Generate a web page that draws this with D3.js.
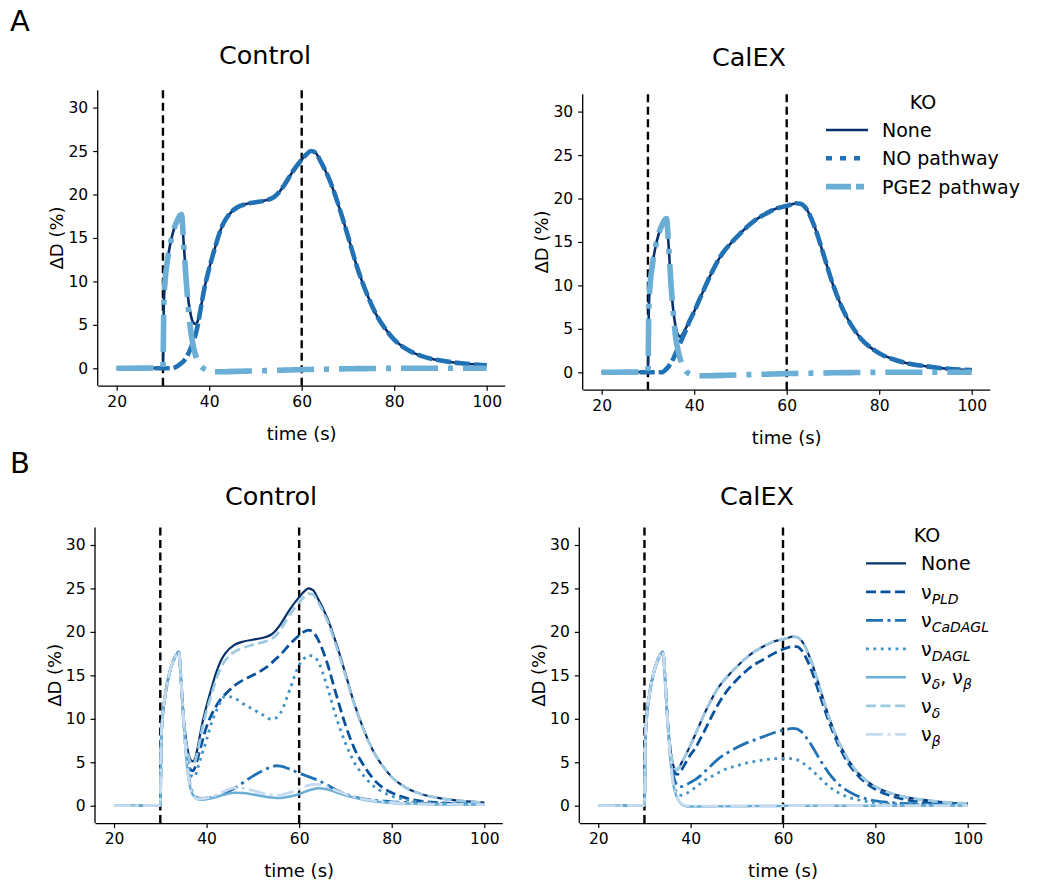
<!DOCTYPE html>
<html>
<head>
<meta charset="utf-8">
<script src="https://cdn.jsdelivr.net/npm/d3@7"></script>
<style>
  body { margin: 0; background: #fff; }
  text { font-family: "DejaVu Sans", sans-serif; fill: #000; }
</style>
</head>
<body>
<svg id="fig" width="1039" height="884"></svg>
<script>
// shared time grid (s)
const time = [20, 25, 29.9, 30, 30.2, 30.5, 31, 32, 33, 34, 34.5, 35, 35.5, 36, 36.5, 37, 37.5, 38, 39, 40,
  41, 42, 43, 44, 46, 48, 50, 52, 54, 55, 56, 58, 60, 61, 62, 63, 64, 66, 68, 70,
  72, 74, 76, 78, 80, 83, 86, 90, 95, 100];

// panel A, Control
const ctrlNone = [0, 0.02, 0.05, 0.1, 7.5, 10.3, 12.5, 15.3, 16.9, 17.7, 14.3, 10.5, 7.8, 6.2, 5.3, 5.1, 5.4, 6.5, 9.3, 11.5,
  13.4, 15.2, 16.6, 17.5, 18.5, 18.9, 19.1, 19.3, 19.7, 20.2, 20.9, 22.6, 24.0, 24.6, 25.0, 24.8, 23.9, 21.7, 18.7, 15.2,
  11.6, 8.7, 6.3, 4.6, 3.3, 2.1, 1.4, 0.9, 0.55, 0.35];
const ctrlNoPath = [0, 0, 0, 0, 0, 0, 0, 0, 0.2, 0.6, 0.85, 1.2, 1.7, 2.3, 3.0, 3.8, 4.9, 6.4, 9.3, 11.5,
  13.4, 15.2, 16.6, 17.5, 18.5, 18.9, 19.1, 19.3, 19.7, 20.2, 20.9, 22.6, 24.0, 24.6, 25.0, 24.8, 23.9, 21.7, 18.7, 15.2,
  11.6, 8.7, 6.3, 4.6, 3.3, 2.1, 1.4, 0.9, 0.55, 0.35];
const ctrlPge2 = [0, 0.02, 0.05, 0.1, 7.5, 10.3, 12.5, 15.3, 16.9, 17.7, 14.3, 10.3, 6.9, 4.3, 2.7, 1.6, 0.9, 0.4, -0.1, -0.35,
  -0.4, -0.4, -0.4, -0.38, -0.35, -0.32, -0.3, -0.27, -0.24, -0.22, -0.21, -0.18, -0.15, -0.14, -0.13, -0.12, -0.11, -0.09, -0.07, -0.05,
  -0.04, -0.03, -0.02, -0.01, 0, 0, 0, 0, 0, 0];

// panel A, CalEX
const calexNone = [0, 0.02, 0.05, 0.1, 7.5, 10.3, 12.5, 15.3, 16.9, 17.7, 14.3, 10.0, 7.0, 5.2, 4.3, 4.1, 4.4, 4.9, 5.9, 7.0,
  8.2, 9.4, 10.6, 11.7, 13.6, 14.9, 16.0, 17.0, 17.8, 18.1, 18.4, 18.9, 19.15, 19.3, 19.45, 19.4, 19.0, 16.8, 13.5, 10.1,
  7.4, 5.4, 3.9, 2.9, 2.2, 1.5, 1.05, 0.7, 0.4, 0.25];
const calexNoPath = [0, 0, 0, 0, 0, 0, 0, 0, 0, 0.4, 0.7, 1.1, 1.6, 2.2, 2.8, 3.4, 4.0, 4.6, 5.9, 7.0,
  8.2, 9.4, 10.6, 11.7, 13.6, 14.9, 16.0, 17.0, 17.8, 18.1, 18.4, 18.9, 19.15, 19.3, 19.45, 19.4, 19.0, 16.8, 13.5, 10.1,
  7.4, 5.4, 3.9, 2.9, 2.2, 1.5, 1.05, 0.7, 0.4, 0.25];
const calexPge2 = [0, 0.02, 0.05, 0.1, 7.5, 10.3, 12.5, 15.3, 16.9, 17.7, 14.3, 10.0, 6.8, 4.0, 2.5, 1.5, 0.8, 0.3, -0.2, -0.35,
  -0.4, -0.4, -0.4, -0.38, -0.35, -0.32, -0.3, -0.27, -0.24, -0.22, -0.21, -0.18, -0.15, -0.14, -0.13, -0.12, -0.11, -0.09, -0.07, -0.05,
  -0.04, -0.03, -0.02, -0.01, 0, 0, 0, 0, 0, 0];

// panel B, Control
const ctrlPld = [0, 0.02, 0.05, 0.1, 7.5, 10.3, 12.5, 15.3, 16.9, 17.7, 14.3, 10.3, 7.3, 5.3, 4.2, 4.0, 4.4, 5.3, 7.3, 9.1,
  10.4, 11.4, 12.2, 12.8, 13.8, 14.5, 15.0, 15.6, 16.4, 16.9, 17.4, 18.6, 19.6, 20.0, 20.2, 20.0, 19.2, 16.5, 12.8, 9.3,
  6.5, 4.6, 3.1, 2.1, 1.5, 0.9, 0.55, 0.35, 0.25, 0.2];
const ctrlCaDagl = [0, 0.02, 0.05, 0.1, 7.5, 10.3, 12.5, 15.3, 16.9, 17.7, 14.3, 10.0, 6.5, 3.8, 2.3, 1.5, 1.1, 0.9, 0.85, 0.9,
  0.95, 1.05, 1.2, 1.45, 2.0, 2.7, 3.4, 4.0, 4.45, 4.6, 4.55, 4.2, 3.75, 3.55, 3.35, 3.15, 2.95, 2.4, 1.8, 1.35,
  1.0, 0.8, 0.65, 0.55, 0.45, 0.38, 0.3, 0.25, 0.2, 0.15];
const ctrlDagl = [0, 0.02, 0.05, 0.1, 7.5, 10.3, 12.5, 15.3, 16.9, 17.7, 14.3, 10.3, 7.2, 5.0, 3.8, 3.3, 3.4, 4.2, 5.9, 7.6,
  9.4, 10.8, 11.9, 12.6, 12.4, 11.7, 11.1, 10.5, 9.95, 10.1, 10.7, 13.4, 16.2, 16.9, 17.3, 17.2, 16.7, 13.8, 10.2, 7.2,
  4.9, 3.4, 2.3, 1.6, 1.1, 0.7, 0.45, 0.3, 0.2, 0.15];
const ctrlDeltaBeta = [0, 0.02, 0.05, 0.1, 7.5, 10.3, 12.5, 15.3, 16.9, 17.7, 14.3, 9.8, 6.2, 3.5, 2.0, 1.3, 0.95, 0.75, 0.7, 0.75,
  0.85, 1.0, 1.15, 1.3, 1.5, 1.45, 1.3, 1.1, 0.95, 0.9, 0.9, 1.05, 1.35, 1.55, 1.75, 1.9, 2.0, 1.9, 1.55, 1.2,
  0.9, 0.68, 0.5, 0.4, 0.32, 0.25, 0.2, 0.15, 0.12, 0.1];
const ctrlDelta = [0, 0.02, 0.05, 0.1, 7.5, 10.3, 12.5, 15.3, 16.9, 17.7, 14.3, 10.4, 7.6, 5.9, 5.0, 4.8, 5.1, 6.1, 8.7, 10.9,
  12.7, 14.4, 15.8, 16.7, 17.7, 18.2, 18.5, 18.8, 19.2, 19.6, 20.3, 22.0, 23.4, 24.0, 24.4, 24.3, 23.5, 21.4, 18.4, 15.0,
  11.5, 8.6, 6.3, 4.6, 3.3, 2.1, 1.4, 0.9, 0.55, 0.35];
const ctrlBeta = [0, 0.02, 0.05, 0.1, 7.5, 10.3, 12.5, 15.3, 16.9, 17.7, 14.3, 9.9, 6.3, 3.6, 2.1, 1.35, 1.0, 0.8, 0.8, 0.9,
  1.05, 1.2, 1.45, 1.7, 2.05, 2.0, 1.75, 1.45, 1.25, 1.2, 1.25, 1.5, 1.9, 2.15, 2.35, 2.45, 2.45, 2.2, 1.75, 1.35,
  1.0, 0.75, 0.58, 0.45, 0.37, 0.28, 0.22, 0.17, 0.14, 0.12];

// panel B, CalEX
const calexPld = [0, 0.02, 0.05, 0.1, 7.5, 10.3, 12.5, 15.3, 16.9, 17.7, 14.3, 10.0, 6.9, 4.9, 3.9, 3.6, 3.7, 4.1, 5.0, 5.9,
  6.6, 7.6, 8.6, 9.7, 11.7, 13.3, 14.5, 15.5, 16.3, 16.6, 16.9, 17.5, 18.0, 18.2, 18.3, 18.3, 17.9, 15.8, 12.7, 9.6,
  7.0, 5.0, 3.6, 2.6, 1.9, 1.2, 0.75, 0.45, 0.3, 0.2];
const calexCaDagl = [0, 0.02, 0.05, 0.1, 7.5, 10.3, 12.5, 15.3, 16.9, 17.7, 14.3, 10.0, 6.7, 4.3, 3.0, 2.4, 2.2, 2.2, 2.4, 2.7,
  3.0, 3.4, 3.9, 4.4, 5.4, 6.1, 6.7, 7.2, 7.6, 7.8, 8.0, 8.4, 8.7, 8.8, 8.9, 8.85, 8.5, 7.1, 5.3, 3.7,
  2.5, 1.7, 1.15, 0.8, 0.55, 0.38, 0.28, 0.2, 0.15, 0.12];
const calexDagl = [0, 0.02, 0.05, 0.1, 7.5, 10.3, 12.5, 15.3, 16.9, 17.7, 14.3, 9.8, 6.3, 3.7, 2.2, 1.5, 1.25, 1.2, 1.4, 1.7,
  2.1, 2.5, 2.9, 3.2, 3.8, 4.3, 4.6, 4.9, 5.1, 5.2, 5.3, 5.4, 5.45, 5.45, 5.4, 5.3, 5.0, 4.2, 3.2, 2.2,
  1.5, 1.0, 0.7, 0.5, 0.35, 0.25, 0.18, 0.13, 0.1, 0.08];
const calexDeltaBeta = [0, 0.02, 0.05, 0.1, 7.5, 10.3, 12.5, 15.3, 16.9, 17.7, 14.3, 9.6, 6.0, 3.3, 1.8, 1.0, 0.5, 0.2, -0.05, -0.1,
  -0.1, -0.1, -0.1, -0.08, -0.07, -0.06, -0.05, -0.05, -0.04, -0.04, -0.03, -0.02, -0.02, -0.01, -0.01, 0, 0, 0, 0, 0,
  0, 0, 0, 0, 0, 0, 0, 0, 0, 0];
const calexDelta = [0, 0.02, 0.05, 0.1, 7.5, 10.3, 12.5, 15.3, 16.9, 17.7, 14.3, 10.0, 7.0, 5.2, 4.3, 4.1, 4.4, 4.9, 5.9, 7.0,
  8.2, 9.4, 10.6, 11.7, 13.6, 14.9, 16.0, 17.0, 17.8, 18.1, 18.4, 18.9, 19.15, 19.3, 19.45, 19.4, 19.0, 16.8, 13.5, 10.1,
  7.4, 5.4, 3.9, 2.9, 2.2, 1.5, 1.05, 0.7, 0.4, 0.25];
const calexBeta = [0, 0.02, 0.05, 0.1, 7.5, 10.3, 12.5, 15.3, 16.9, 17.7, 14.3, 9.7, 6.1, 3.4, 1.9, 1.05, 0.55, 0.25, 0.0, -0.05,
  -0.05, -0.05, -0.05, -0.04, -0.04, -0.03, -0.03, -0.02, -0.02, -0.02, -0.01, -0.01, 0, 0, 0, 0, 0, 0, 0, 0,
  0, 0, 0, 0, 0, 0, 0, 0, 0, 0];

const xTicks = [20, 40, 60, 80, 100];
const yTicks = [0, 5, 10, 15, 20, 25, 30];
const stimTimes = [30, 60];
const legendA = ["None", "NO pathway", "PGE2 pathway"];
const legendB = [["None", ""], ["ν", "PLD"], ["ν", "CaDAGL"], ["ν", "DAGL"], ["ν", "δ", "ν", "β"], ["ν", "δ"], ["ν", "β"]];

// line styles
const styleA = [
  { color: "#08306b", width: 2.6, dash: null, legDash: null },
  { color: "#2171b5", width: 4.6, dash: "15,4", legDash: "6,8" },
  { color: "#6baed6", width: 5.6, dash: "37,10,5,10", legDash: "25,5,8,20" }
];
const styleB = [
  { color: "#08306b", width: 2.2, dash: null },
  { color: "#08519c", width: 2.8, dash: "10,4.5" },
  { color: "#2171b5", width: 2.8, dash: "17,4.5,3,4.5" },
  { color: "#4292c6", width: 2.8, dash: "2.8,4.6" },
  { color: "#6baed6", width: 2.5, dash: null },
  { color: "#9ecae1", width: 2.8, dash: "10,4.5" },
  { color: "#c6dbef", width: 2.8, dash: "17,4.5,3,4.5" }
];

const svg = d3.select("#fig");

function drawPanel(p) {
  const x = d3.scaleLinear().domain([16, 104]).range([p.left, p.right]);
  const y = d3.scaleLinear().domain([-2, 32]).range([p.bottom, p.top]);
  const g = svg.append("g");

  g.selectAll(".stim").data(stimTimes).enter().append("line")
    .attr("x1", d => x(d)).attr("x2", d => x(d))
    .attr("y1", p.top).attr("y2", p.bottom)
    .attr("stroke", "#000").attr("stroke-width", 2.4)
    .attr("stroke-dasharray", "8,4.5");

  const line = d3.line()
    .x((d, i) => x(time[i]))
    .y(d => y(d))
    .curve(d3.curveMonotoneX);

  p.series.forEach((s, k) => {
    const st = p.styles[k];
    g.append("path")
      .attr("d", line(s))
      .attr("fill", "none")
      .attr("stroke", st.color)
      .attr("stroke-width", st.width)
      .attr("stroke-linejoin", "round")
      .attr("stroke-dasharray", st.dash);
  });

  // axes
  const xa = g.append("g").attr("transform", `translate(0,${p.bottom})`)
    .call(d3.axisBottom(x).tickValues(xTicks).tickSize(5).tickPadding(5));
  const ya = g.append("g").attr("transform", `translate(${p.left},0)`)
    .call(d3.axisLeft(y).tickValues(yTicks).tickSize(5).tickPadding(5));
  [xa, ya].forEach(a => {
    a.select(".domain").attr("stroke-width", 1.3).attr("d",
      a === xa ? `M${p.left},0.5H${p.right}` : `M-0.5,${p.top}V${p.bottom}`);
    a.selectAll(".tick line").attr("stroke-width", 1.2);
    a.selectAll(".tick text").style("font-size", "15.5px").style("font-family", "DejaVu Sans");
  });

  g.append("text").attr("x", (p.left + p.right) / 2).attr("y", p.bottom + 54)
    .attr("text-anchor", "middle").style("font-size", "18px").text("time (s)");
  g.append("text")
    .attr("transform", `translate(${p.left - 35},${(p.top + p.bottom) / 2}) rotate(-90)`)
    .attr("text-anchor", "middle").style("font-size", "18px").text("ΔD (%)");
  g.append("text").attr("x", p.titleX).attr("y", p.titleY)
    .attr("text-anchor", "middle").style("font-size", "25.5px").text(p.title);
}

drawPanel({ left: 98.2, right: 505.2, top: 90.2, bottom: 385.7, title: "Control", titleX: 265, titleY: 64,
  series: [ctrlNone, ctrlNoPath, ctrlPge2], styles: styleA });
drawPanel({ left: 583.2, right: 990.2, top: 94.2, bottom: 389.7, title: "CalEX", titleX: 749, titleY: 66,
  series: [calexNone, calexNoPath, calexPge2], styles: styleA });
drawPanel({ left: 95.5, right: 502.8, top: 527.6, bottom: 823.1, title: "Control", titleX: 271, titleY: 505,
  series: [ctrlNone, ctrlPld, ctrlCaDagl, ctrlDagl, ctrlDeltaBeta, ctrlDelta, ctrlBeta], styles: styleB });
drawPanel({ left: 579.8, right: 986.2, top: 527.6, bottom: 823.1, title: "CalEX", titleX: 757, titleY: 505,
  series: [calexNone, calexPld, calexCaDagl, calexDagl, calexDeltaBeta, calexDelta, calexBeta], styles: styleB });

// panel letters
svg.append("text").attr("x", 10).attr("y", 31).style("font-size", "29px").text("A");
svg.append("text").attr("x", 10).attr("y", 473).style("font-size", "29px").text("B");

// legend A
const lgA = svg.append("g");
lgA.append("text").attr("x", 923).attr("y", 108.5).attr("text-anchor", "middle")
  .style("font-size", "19px").text("KO");
legendA.forEach((lab, i) => {
  const yy = 130 + i * 28.3;
  const st = styleA[i];
  lgA.append("line").attr("x1", 826).attr("x2", 868).attr("y1", yy).attr("y2", yy)
    .attr("stroke", st.color).attr("stroke-width", st.width)
    .attr("stroke-dasharray", st.legDash);
  lgA.append("text").attr("x", 882).attr("y", yy + 7).style("font-size", "19px").text(lab);
});

// legend B
const lgB = svg.append("g");
lgB.append("text").attr("x", 927).attr("y", 542).attr("text-anchor", "middle")
  .style("font-size", "19px").text("KO");
legendB.forEach((lab, i) => {
  const yy = 563.3 + i * 28.5;
  const st = styleB[i];
  lgB.append("line").attr("x1", 866).attr("x2", 906).attr("y1", yy).attr("y2", yy)
    .attr("stroke", st.color).attr("stroke-width", st.width)
    .attr("stroke-dasharray", st.dash);
  const t = lgB.append("text").attr("x", 921).attr("y", yy + 7).style("font-size", "19px");
  if (lab[1] === "") { t.text(lab[0]); return; }
  for (let j = 0; j < lab.length; j += 2) {
    if (j > 0) t.append("tspan").attr("dy", -5).text(", ");
    t.append("tspan").attr("dy", j > 0 ? 0 : null).text(lab[j]);
    t.append("tspan").attr("dy", 5).style("font-size", "14px").style("font-style", "italic").text(lab[j + 1]);
  }
});
</script>
</body>
</html>
